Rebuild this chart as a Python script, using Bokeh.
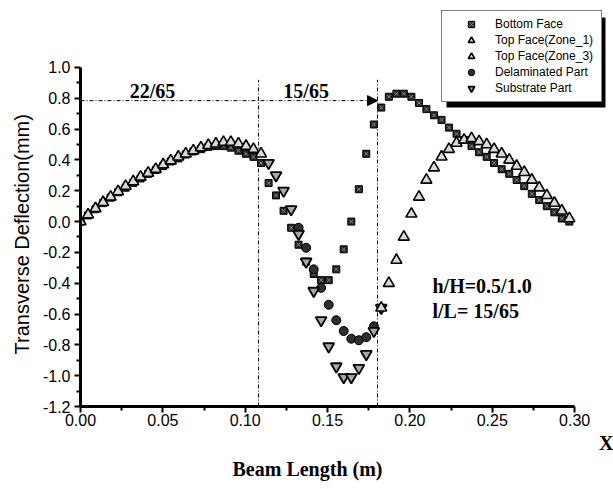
from bokeh.plotting import figure
from bokeh.models import (Range1d, FixedTicker, NumeralTickFormatter, Legend, LegendItem,
                          Label, Arrow, NormalHead, Title, BoxAnnotation)
from bokeh.embed import file_html
from bokeh.resources import INLINE

# ---------------- data ----------------
node_x = [0.0000, 0.0046, 0.0091, 0.0137, 0.0183, 0.0228, 0.0274, 0.0320, 0.0365, 0.0411,
          0.0457, 0.0502, 0.0548, 0.0594, 0.0639, 0.0685, 0.0731, 0.0776, 0.0822, 0.0868,
          0.0913, 0.0959, 0.1005, 0.1050, 0.1096, 0.1142, 0.1187, 0.1233, 0.1279, 0.1324,
          0.1370, 0.1416, 0.1461, 0.1507, 0.1553, 0.1598, 0.1644, 0.1690, 0.1735, 0.1781,
          0.1826, 0.1872, 0.1918, 0.1963, 0.2009, 0.2055, 0.2100, 0.2146, 0.2192, 0.2237,
          0.2283, 0.2329, 0.2374, 0.2420, 0.2466, 0.2511, 0.2557, 0.2603, 0.2648, 0.2694,
          0.2740, 0.2785, 0.2831, 0.2877, 0.2922, 0.2968]

bottom_face_x = node_x
bottom_face_y = [0.0, 0.04, 0.08, 0.12, 0.155, 0.19, 0.22, 0.25, 0.28, 0.31, 0.335, 0.36, 0.39,
                 0.41, 0.435, 0.455, 0.47, 0.485, 0.49, 0.49, 0.48, 0.46, 0.44, 0.42, 0.38,
                 0.25, 0.17, 0.07, -0.04, -0.15, -0.26, -0.34, -0.38, -0.38, -0.31, -0.18, 0.0,
                 0.21, 0.44, 0.63,
                 0.74, 0.81, 0.83, 0.83, 0.81, 0.77, 0.73, 0.69, 0.66, 0.61, 0.57, 0.53, 0.49,
                 0.45, 0.42, 0.38, 0.34, 0.31, 0.27, 0.23, 0.18, 0.14, 0.10, 0.06, 0.02, 0.0]

top_zone1_x = node_x[0:25]
top_zone1_y = [0.0, 0.045, 0.085, 0.125, 0.16, 0.195, 0.23, 0.26, 0.29, 0.315, 0.34, 0.37,
               0.395, 0.42, 0.44, 0.46, 0.48, 0.495, 0.505, 0.515, 0.515, 0.505, 0.49, 0.47, 0.44]

top_zone3_x = node_x[40:66]
top_zone3_y = [-0.56, -0.40, -0.25, -0.10, 0.05, 0.16, 0.27, 0.35, 0.42, 0.47, 0.51, 0.53, 0.54,
               0.52, 0.50, 0.47, 0.44, 0.40, 0.36, 0.32, 0.27, 0.22, 0.17, 0.12, 0.07, 0.02]

delam_x = node_x[29:40]
delam_y = [-0.04, -0.17, -0.31, -0.43, -0.54, -0.64, -0.71, -0.76, -0.77, -0.75, -0.68]

substrate_x = node_x[25:41]
substrate_y = [0.38, 0.30, 0.20, 0.08, -0.08, -0.26, -0.45, -0.64, -0.81, -0.94, -1.01, -1.01,
               -0.95, -0.86, -0.71, -0.56]

x_ticks = [0.0, 0.05, 0.10, 0.15, 0.20, 0.25, 0.30]
x_minor = [0.025, 0.075, 0.125, 0.175, 0.225, 0.275]
y_ticks = [-1.2, -1.0, -0.8, -0.6, -0.4, -0.2, 0.0, 0.2, 0.4, 0.6, 0.8, 1.0]
y_minor = [-1.1, -0.9, -0.7, -0.5, -0.3, -0.1, 0.1, 0.3, 0.5, 0.7, 0.9]

zone_bounds_x = [0.1081, 0.1803]
zone_line_top = 0.92
span_arrow_y = 0.785
labels_zone = ["22/65", "15/65"]
labels_zone_x = [0.0437, 0.137]

legend_labels = ["Bottom Face", "Top Face(Zone_1)", "Top Face(Zone_3)",
                 "Delaminated Part", "Substrate Part"]

# ---------------- figure ----------------
X0, X1 = 0.0, 0.3236
Y0, Y1 = -1.2, 1.4348
p = figure(width=613, height=489, output_backend="svg", toolbar_location=None,
           x_range=Range1d(X0, X1), y_range=Range1d(Y0, Y1),
           min_border_left=80, min_border_right=0, min_border_top=0, min_border_bottom=83)
p.outline_line_color = None
p.grid.visible = False
p.background_fill_color = "white"
p.border_fill_color = "white"

FRAME_W, FRAME_H = 613 - 80, 489 - 83


def px_to_x(px):
    return X0 + (px - 80) * (X1 - X0) / FRAME_W


def py_to_y(py):
    return Y1 - py * (Y1 - Y0) / FRAME_H


for ax in (p.xaxis[0], p.yaxis[0]):
    ax.axis_line_width = 3
    ax.axis_line_color = "black"
    ax.major_tick_line_width = 2
    ax.minor_tick_line_width = 2
    ax.major_tick_out = 6
    ax.major_tick_in = 0
    ax.minor_tick_out = 4
    ax.minor_tick_in = 0
    ax.major_label_text_font = "Liberation Sans"
    ax.major_label_text_font_size = "16px"
    ax.major_label_text_color = "black"

p.xaxis.bounds = (0, 0.3)
p.yaxis.bounds = (-1.2, 1.0)
p.xaxis.ticker = FixedTicker(ticks=x_ticks, minor_ticks=x_minor)
p.yaxis.ticker = FixedTicker(ticks=y_ticks, minor_ticks=y_minor)
p.xaxis.formatter = NumeralTickFormatter(format="0.00")
p.yaxis.formatter = NumeralTickFormatter(format="0.0")
p.xaxis.major_label_standoff = 1
p.yaxis.major_label_standoff = 4

# axis titles
p.add_layout(Title(text="Transverse Deflection(mm)", align="left", offset=52,
                   text_font="Liberation Sans", text_font_style="normal",
                   text_font_size="20px", text_color="black", standoff=13), "left")
p.add_layout(Title(text="X", align="right", offset=0,
                   text_font="Liberation Serif", text_font_style="bold",
                   text_font_size="20px", text_color="black", standoff=2), "below")
p.add_layout(Title(text="Beam Length (m)", align="left", offset=152,
                   text_font="Liberation Serif", text_font_style="bold",
                   text_font_size="20px", text_color="black", standoff=2), "below")

# zone boundary lines and arrow
p.segment(x0=zone_bounds_x, y0=[-1.2, -1.2], x1=zone_bounds_x, y1=[zone_line_top, zone_line_top],
          line_color="black", line_width=1, line_dash="4 2 1 2")
p.add_layout(Arrow(end=NormalHead(size=10, fill_color="black", line_color="black"),
                   x_start=0.0, y_start=span_arrow_y, x_end=zone_bounds_x[1], y_end=span_arrow_y,
                   line_color="black", line_width=1, line_dash="4 2 1 2"))

# data markers
r_bs = p.scatter(bottom_face_x, bottom_face_y, marker="square", size=7,
                 fill_color="#262626", line_color="black", line_width=1)
r_bx = p.scatter(bottom_face_x, bottom_face_y, marker="x", size=5,
                 line_color="#8c8c8c", line_width=1)
r_dl = p.scatter(delam_x, delam_y, marker="circle", size=9,
                 fill_color="#2e2e2e", line_color="black", line_width=1)
r_sb = p.scatter(substrate_x, substrate_y, marker="inverted_triangle", size=11,
                 fill_color="#a8a8a8", line_color="black", line_width=1.8)
r_t1 = p.scatter(top_zone1_x, top_zone1_y, marker="triangle", size=11,
                 fill_color="#d9d9d9", line_color="black", line_width=1.6)
r_t3 = p.scatter(top_zone3_x, top_zone3_y, marker="triangle", size=11,
                 fill_color="#d9d9d9", line_color="black", line_width=1.6)

# text annotations
for t, xx in zip(labels_zone, labels_zone_x):
    p.add_layout(Label(x=xx, y=0.85, text=t, text_font="Liberation Serif",
                       text_font_style="bold", text_font_size="20px",
                       text_align="center", text_baseline="middle", text_color="black"))
p.add_layout(Label(x=0.2137, y=-0.42, text="h/H=0.5/1.0", text_font="Liberation Serif",
                   text_font_style="bold", text_font_size="20px",
                   text_align="left", text_baseline="middle", text_color="black"))
p.add_layout(Label(x=0.2137, y=-0.58, text="l/L= 15/65", text_font="Liberation Serif",
                   text_font_style="bold", text_font_size="20px",
                   text_align="left", text_baseline="middle", text_color="black"))

# legend box: left 441px, bottom 102px, 5 rows of 16px, drop shadow offset 5px
LEG_LEFT, LEG_BOTTOM, LEG_W, LEG_H, SHADOW = 441, 102, 159, 90, 5
p.add_layout(BoxAnnotation(left=px_to_x(LEG_LEFT + SHADOW), right=px_to_x(LEG_LEFT + LEG_W + SHADOW),
                           top=py_to_y(LEG_BOTTOM - LEG_H + SHADOW),
                           bottom=py_to_y(LEG_BOTTOM + SHADOW),
                           fill_color="black", fill_alpha=1.0, line_color=None))

groups = [[r_bs, r_bx], [r_t1], [r_t3], [r_dl], [r_sb]]
items = [LegendItem(label=lab, renderers=g) for lab, g in zip(legend_labels, groups)]
legend = Legend(items=items, location=(LEG_LEFT - 80, FRAME_H - LEG_BOTTOM), margin=0,
                padding=5, spacing=0, glyph_width=48, glyph_height=16, label_height=16,
                label_width=101, label_standoff=0, label_text_font="Liberation Sans",
                label_text_font_size="12px", label_text_color="black",
                border_line_color="black", border_line_width=1,
                background_fill_color="white", background_fill_alpha=1.0)
p.add_layout(legend)

open("out.html", "w").write(file_html(p, INLINE))
